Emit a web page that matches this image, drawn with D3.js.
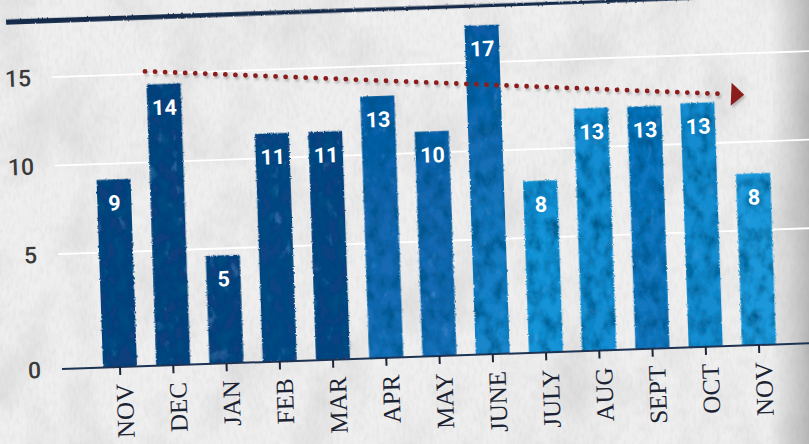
<!DOCTYPE html>
<html>
<head>
<meta charset="utf-8">
<script src="https://cdn.jsdelivr.net/npm/d3@7"></script>
<style>
  html, body { margin: 0; padding: 0; background: #ececec; }
  svg { display: block; }
</style>
</head>
<body>
<svg id="chart" width="809" height="444"></svg>
<script>
// ---- data ----
const months = ["NOV", "DEC", "JAN", "FEB", "MAR", "APR", "MAY", "JUNE", "JULY", "AUG", "SEPT", "OCT", "NOV"];
const barValues = [9.1, 14.4, 4.7, 11.4, 11.4, 13.3, 11.2, 17.1, 8.2, 12.2, 12.2, 12.3, 8.2];
const valueLabels = [9, 14, 5, 11, 11, 13, 10, 17, 8, 13, 13, 13, 8];
const yTicks = [0, 5, 10, 15];
const trendIndex = [0.66, 11.49];   // month-index positions of the trend arrow
const trendValues = [15.15, 12.75];   // values at those positions
const topRuleValue = 18.2;

// ---- styles ----
const barTop =    ["#083f7b", "#083f7b", "#083f7b", "#0a4482", "#0a4380", "#105ea6", "#1163ab",
                   "#0e5ca5", "#1892d6", "#168dd2", "#1174bc", "#168cd0", "#1b98da"];
const barBottom = ["#083f7b", "#083f7b", "#083f7b", "#0a4482", "#0a4380", "#156fb8", "#156eb6",
                   "#1a87cc", "#1892d6", "#168dd2", "#1277bf", "#168cd0", "#1b98da"];

const svg = d3.select("#chart");
const W = 809, H = 444;
const defs = svg.append("defs");

// paper texture
const paper = defs.append("filter").attr("id", "paper")
  .attr("x", 0).attr("y", 0).attr("width", "100%").attr("height", "100%");
paper.append("feTurbulence").attr("type", "fractalNoise").attr("baseFrequency", "0.02 0.012")
  .attr("numOctaves", 5).attr("seed", 11).attr("result", "n");
paper.append("feColorMatrix").attr("in", "n").attr("type", "matrix")
  .attr("values", "0 0 0 0 0.5  0 0 0 0 0.5  0 0 0 0 0.5  0.7 0 0 0 -0.3");

const paper2 = defs.append("filter").attr("id", "paper2")
  .attr("x", 0).attr("y", 0).attr("width", "100%").attr("height", "100%");
paper2.append("feTurbulence").attr("type", "fractalNoise").attr("baseFrequency", "0.3 0.12")
  .attr("numOctaves", 3).attr("seed", 5).attr("result", "n");
paper2.append("feColorMatrix").attr("in", "n").attr("type", "matrix")
  .attr("values", "0 0 0 0 0.5  0 0 0 0 0.5  0 0 0 0 0.5  0.7 0 0 0 -0.28");

// bar watercolor texture
const bt = defs.append("filter").attr("id", "bartex")
  .attr("x", "-15%").attr("y", "-5%").attr("width", "130%").attr("height", "110%");
bt.append("feTurbulence").attr("type", "fractalNoise").attr("baseFrequency", "0.8")
  .attr("numOctaves", 1).attr("seed", 2).attr("result", "fine");
bt.append("feDisplacementMap").attr("in", "SourceGraphic").attr("in2", "fine")
  .attr("scale", 3).attr("xChannelSelector", "R").attr("yChannelSelector", "G").attr("result", "rough");
bt.append("feTurbulence").attr("type", "fractalNoise").attr("baseFrequency", "0.09 0.06")
  .attr("numOctaves", 4).attr("seed", 7).attr("result", "noise");
bt.append("feColorMatrix").attr("in", "noise").attr("type", "matrix")
  .attr("values", "0 0 0 0 0.0  0 0 0 0 0.08  0 0 0 0 0.22  1.9 0 0 0 -0.75").attr("result", "shade");
bt.append("feComposite").attr("in", "shade").attr("in2", "rough").attr("operator", "in").attr("result", "shadeIn");
bt.append("feColorMatrix").attr("in", "noise").attr("type", "matrix")
  .attr("values", "0 0 0 0 0.1  0 0 0 0 0.4  0 0 0 0 0.8  0 -1.0 0 0 0.35").attr("result", "hi");
bt.append("feComposite").attr("in", "hi").attr("in2", "rough").attr("operator", "in").attr("result", "hiIn");
const bm = bt.append("feMerge");
bm.append("feMergeNode").attr("in", "rough");
bm.append("feMergeNode").attr("in", "hiIn");
bm.append("feMergeNode").attr("in", "shadeIn");

// soft shadow
const sh = defs.append("filter").attr("id", "shadow")
  .attr("x", "-10%").attr("y", "-50%").attr("width", "120%").attr("height", "200%");
sh.append("feGaussianBlur").attr("stdDeviation", 1.2);

// rough line for top rule
const rl = defs.append("filter").attr("id", "roughline")
  .attr("x", "-5%").attr("y", "-200%").attr("width", "110%").attr("height", "500%");
rl.append("feTurbulence").attr("type", "fractalNoise").attr("baseFrequency", "0.6")
  .attr("numOctaves", 1).attr("seed", 4).attr("result", "f");
rl.append("feDisplacementMap").attr("in", "SourceGraphic").attr("in2", "f")
  .attr("scale", 2.5).attr("xChannelSelector", "R").attr("yChannelSelector", "G");

// right-edge shading
const eg = defs.append("linearGradient").attr("id", "edge").attr("x1", 0).attr("x2", 1).attr("y1", 0).attr("y2", 0);
eg.append("stop").attr("offset", "0%").attr("stop-color", "#888").attr("stop-opacity", 0);
eg.append("stop").attr("offset", "100%").attr("stop-color", "#777").attr("stop-opacity", 0.45);

// per-bar vertical gradients
barTop.forEach((c, i) => {
  const lg = defs.append("linearGradient").attr("id", "bg" + i)
    .attr("x1", 0).attr("x2", 0).attr("y1", 0).attr("y2", 1);
  lg.append("stop").attr("offset", "0%").attr("stop-color", c);
  lg.append("stop").attr("offset", "100%").attr("stop-color", barBottom[i]);
});

// ---- background ----
svg.append("rect").attr("width", W).attr("height", H).attr("fill", "#efefef");
svg.append("rect").attr("width", W).attr("height", H).attr("filter", "url(#paper)");
svg.append("rect").attr("width", W).attr("height", H).attr("filter", "url(#paper2)").attr("opacity", 0.5);
svg.append("rect").attr("x", 770).attr("y", 0).attr("width", 39).attr("height", H).attr("fill", "url(#edge)");

// ---- scales ----
const step = 53.28;
const x = d3.scaleLinear().domain([0, months.length - 1]).range([0, (months.length - 1) * step]);
const y = d3.scaleLinear().domain([0, 5, 15]).range([0, -115, -292]);

// chart group (slightly tilted, origin at the first tick on the baseline)
const g = svg.append("g").attr("transform", "translate(120,367) rotate(-1.97)");

// top rule
g.append("path")
  .attr("d", `M${-102},${y(topRuleValue) - 2.6} L700,${y(topRuleValue) - 1} L700,${y(topRuleValue) + 1} L${-102},${y(topRuleValue) + 2.6}Z`)
  .attr("fill", "#132a4a")
  .attr("filter", "url(#roughline)");

// gridlines
const grid = g.append("g");
yTicks.filter(t => t > 0).forEach(t => {
  grid.append("line")
    .attr("x1", -58).attr("x2", 720).attr("y1", y(t) + 3).attr("y2", y(t) + 3)
    .attr("stroke", "#b9b9b9").attr("stroke-width", 3).attr("opacity", 0.5)
    .attr("filter", "url(#shadow)");
  grid.append("line")
    .attr("x1", -58).attr("x2", 720).attr("y1", y(t)).attr("y2", y(t))
    .attr("stroke", "#ffffff").attr("stroke-width", 1.8);
});

// y tick labels
g.append("g").selectAll("text").data(yTicks).join("text")
  .attr("x", -79).attr("y", d => y(d))
  .attr("text-anchor", "end")
  .attr("dy", "0.36em")
  .attr("font-family", "Roboto, 'Noto Sans', sans-serif")
  .attr("font-weight", 500)
  .attr("font-size", 23)
  .attr("fill", "#3a3a3a")
  .text(d => d);

// bars
g.append("g").selectAll("rect").data(barValues).join("rect")
  .attr("x", (d, i) => x(i) - 17)
  .attr("width", 34)
  .attr("y", d => y(d))
  .attr("height", d => -y(d))
  .attr("fill", (d, i) => `url(#bg${i})`)
  .attr("filter", "url(#bartex)");

// value labels
g.append("g").selectAll("text").data(barValues).join("text")
  .attr("x", (d, i) => x(i))
  .attr("y", d => y(d) + 31)
  .attr("text-anchor", "middle")
  .attr("font-family", "Roboto, 'Noto Sans', sans-serif")
  .attr("font-weight", 700)
  .attr("font-size", 21.5)
  .attr("fill", "#ffffff")
  .text((d, i) => valueLabels[i]);

// baseline axis
g.append("line").attr("x1", -58).attr("x2", 720).attr("y1", 0).attr("y2", 0)
  .attr("stroke", "#1d3354").attr("stroke-width", 2);

// ticks
g.append("g").selectAll("line").data(months).join("line")
  .attr("x1", (d, i) => x(i)).attr("x2", (d, i) => x(i))
  .attr("y1", 0).attr("y2", 8)
  .attr("stroke", "#1c2535").attr("stroke-width", 2);

// month labels
g.append("g").selectAll("text").data(months).join("text")
  .attr("transform", (d, i) => `translate(${x(i) + 4},17) rotate(-90)`)
  .attr("text-anchor", "end")
  .attr("dy", "0.33em")
  .attr("font-family", "'Liberation Serif', 'DejaVu Serif', serif")
  .attr("font-size", 25)
  .attr("fill", "#1c2433")
  .text(d => d);

// trend arrow
const p0 = [x(trendIndex[0]), y(trendValues[0])];
const p1 = [x(trendIndex[1]), y(trendValues[1])];
const ang = Math.atan2(p1[1] - p0[1], p1[0] - p0[0]) * 180 / Math.PI;
const trend = g.append("g");
const shadowG = trend.append("g").attr("transform", "translate(1.5,2.5)").attr("opacity", 0.35).attr("filter", "url(#shadow)");
const mainG = trend.append("g");
[shadowG, mainG].forEach((tg, k) => {
  const col = k === 0 ? "#555" : "#8c1d1d";
  tg.append("line")
    .attr("x1", p0[0]).attr("y1", p0[1]).attr("x2", p1[0]).attr("y2", p1[1])
    .attr("stroke", col).attr("stroke-width", 4.8)
    .attr("stroke-linecap", "round").attr("stroke-dasharray", "0 10.05");
  tg.append("path")
    .attr("transform", `translate(${p1[0]},${p1[1]}) rotate(${ang})`)
    .attr("d", "M8,-11.5 L21,0 L8,11.5 Z")
    .attr("fill", col);
});
</script>
</body>
</html>
